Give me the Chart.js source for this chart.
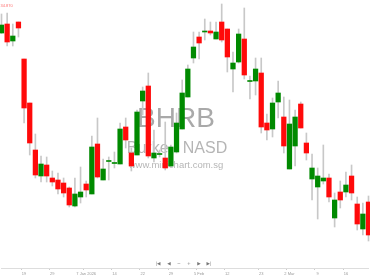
<!DOCTYPE html>
<html>
<head>
<meta charset="utf-8">
<script src="https://cdn.jsdelivr.net/npm/chart.js@4.4.1/dist/chart.umd.min.js"></script>
<style>
  html, body { margin: 0; padding: 0; background: #fff; }
  #wrap { width: 370px; height: 278px; position: relative; }
</style>
</head>
<body>
<div id="wrap"><canvas id="bhrbChart"></canvas></div>
<script>
// trading days, 15 Dec 2025 .. 20 Mar 2026
const dates = [
  "15 Dec", "16 Dec", "17 Dec", "18 Dec", "19 Dec", "22 Dec", "23 Dec", "24 Dec", "26 Dec", "29 Dec",
  "30 Dec", "31 Dec", "2 Jan", "5 Jan", "6 Jan", "7 Jan", "8 Jan", "9 Jan", "12 Jan", "13 Jan",
  "14 Jan", "15 Jan", "16 Jan", "20 Jan", "21 Jan", "22 Jan", "23 Jan", "26 Jan", "27 Jan", "28 Jan",
  "29 Jan", "30 Jan", "2 Feb", "3 Feb", "4 Feb", "5 Feb", "6 Feb", "9 Feb", "10 Feb", "11 Feb",
  "12 Feb", "13 Feb", "17 Feb", "18 Feb", "19 Feb", "20 Feb", "23 Feb", "24 Feb", "25 Feb", "26 Feb",
  "27 Feb", "2 Mar", "3 Mar", "4 Mar", "5 Mar", "6 Mar", "9 Mar", "10 Mar", "11 Mar", "12 Mar",
  "13 Mar", "16 Mar", "17 Mar", "18 Mar", "19 Mar", "20 Mar"
];

const opens = [
  26.70, 27.60, 25.90, 27.80, 24.10, 19.70, 15.00, 12.40, 13.50, 12.20,
  12.00, 11.70, 11.20, 9.40, 10.30, 11.60, 10.60, 15.60, 12.00, 13.85,
  13.65, 13.60, 17.30, 14.70, 14.50, 19.90, 21.40, 14.20, 14.55, 14.20,
  13.40, 14.80, 17.10, 20.30, 24.20, 26.30, 26.80, 26.90, 26.10, 27.80,
  27.10, 23.10, 23.80, 26.10, 21.85, 21.90, 22.70, 17.70, 17.10, 19.80,
  18.30, 13.10, 15.40, 19.60, 15.70, 12.10, 11.30, 11.90, 12.20, 8.20,
  10.80, 10.80, 12.40, 9.60, 7.10, 9.80
];
const highs = [
  28.60, 28.70, 27.60, 27.80, 24.10, 19.70, 16.60, 14.40, 14.30, 12.90,
  12.70, 12.20, 11.30, 12.20, 13.30, 11.90, 16.40, 18.20, 14.10, 14.30,
  14.80, 17.70, 18.20, 15.20, 19.00, 21.30, 22.70, 17.00, 15.00, 17.80,
  15.50, 18.70, 22.00, 23.50, 26.80, 26.80, 28.10, 27.80, 27.80, 29.60,
  27.10, 24.80, 27.10, 29.20, 22.40, 24.20, 24.20, 18.60, 20.20, 21.90,
  20.30, 20.00, 19.00, 19.80, 16.70, 14.60, 13.20, 15.50, 12.60, 10.70,
  11.90, 12.80, 13.50, 10.30, 9.70, 10.40
];
const lows = [
  26.65, 25.40, 25.40, 26.30, 17.70, 14.50, 12.20, 11.80, 11.80, 11.40,
  10.60, 10.30, 9.30, 9.30, 9.70, 10.30, 10.60, 12.20, 12.00, 12.00,
  13.20, 13.60, 15.20, 12.90, 14.50, 18.50, 14.20, 13.80, 14.30, 13.00,
  13.30, 14.70, 17.10, 20.30, 23.70, 24.10, 26.00, 26.50, 26.10, 25.80,
  22.80, 20.80, 23.70, 22.10, 20.10, 20.50, 16.70, 16.00, 16.30, 18.20,
  14.70, 13.10, 13.40, 17.20, 14.00, 10.00, 8.10, 11.60, 9.80, 7.30,
  9.20, 10.30, 10.00, 7.00, 6.50, 5.90
];
const closes = [
  27.50, 25.80, 26.40, 27.20, 19.20, 15.70, 12.50, 13.60, 12.40, 11.80,
  11.10, 10.70, 9.50, 10.60, 10.80, 11.00, 15.30, 12.30, 13.10, 13.95,
  13.75, 17.10, 16.00, 13.40, 18.80, 20.90, 14.40, 14.70, 14.65, 13.20,
  15.30, 17.70, 20.70, 23.10, 25.30, 25.70, 26.90, 26.70, 26.80, 26.00,
  24.30, 23.70, 26.60, 22.50, 21.95, 23.10, 17.30, 17.00, 19.70, 20.70,
  15.40, 17.60, 18.30, 17.20, 14.70, 13.20, 12.40, 12.20, 10.30, 10.00,
  10.00, 11.50, 10.70, 7.60, 8.60, 6.50
];

// x axis labels and the candle they sit under
const tickIndex = [4, 9, 15, 20, 25, 30, 35, 40, 46, 51, 56, 61];
const tickText = ["19", "29", "7 Jan 2026", "14", "22", "29", "5 Feb", "12", "23", "2 Mar", "9", "16"];

const UP = "#008a00";
const DOWN = "#ff0a0a";
const FONT = "'Liberation Sans', Arial, sans-serif";

const candleColors = opens.map((o, i) => (closes[i] >= o ? UP : DOWN));

// watermark behind the candles
const watermark = {
  id: "watermark",
  beforeDatasetsDraw(chart) {
    const c = chart.ctx;
    c.save();
    c.textAlign = "center";
    c.textBaseline = "alphabetic";
    c.fillStyle = "rgba(140,140,140,0.75)";
    c.font = "28px " + FONT;
    c.fillText("BHRB", 176, 127);
    c.fillStyle = "rgba(150,150,150,0.7)";
    c.font = "16px " + FONT;
    c.fillText("Burke - NASD", 177, 153);
    c.font = "9.5px " + FONT;
    c.fillText("www.minichart.com.sg", 176, 168);
    c.restore();
  },
  afterDraw(chart) {
    const c = chart.ctx;
    c.save();
    // price tag top left
    c.fillStyle = "#ff7070";
    c.font = "4px " + FONT;
    c.textBaseline = "middle";
    c.textAlign = "left";
    c.fillText("34.870", 0.5, 6);
    // navigation buttons
    const nav = ["|\u25C0", "\u25C0", "\u2212", "+", "\u25B6", "\u25B6|"];
    const navX = [158, 169, 179, 189, 199, 209];
    c.fillStyle = "#777";
    c.font = "4.5px 'DejaVu Sans', sans-serif";
    c.textAlign = "center";
    nav.forEach((t, i) => c.fillText(t, navX[i], 263.5));
    c.restore();
  }
};

const ctx = document.getElementById("bhrbChart").getContext("2d");
const bhrbChart = new Chart(ctx, {
  type: "bar",
  data: {
    labels: dates,
    datasets: [
      {
        label: "range",
        data: lows.map((l, i) => [l, highs[i]]),
        backgroundColor: "#c8c8c8",
        barThickness: 1,
        grouped: false,
        clip: false,
        order: 2,
      },
      {
        label: "body",
        data: opens.map((o, i) => [o, closes[i]]),
        backgroundColor: candleColors,
        barThickness: 4.6,
        grouped: false,
        clip: false,
        order: 1,
      },
    ],
  },
  options: {
    responsive: true,
    maintainAspectRatio: false,
    animation: false,
    devicePixelRatio: 1,
    layout: { padding: { left: 1, right: 1, top: 0, bottom: 0 } },
    plugins: { legend: { display: false }, tooltip: { enabled: false } },
    scales: {
      x: {
        offset: false,
        grid: {
          drawOnChartArea: false,
          tickLength: 2,
          color: (c) => (tickIndex.includes(c.index) ? "#cccccc" : "rgba(0,0,0,0)"),
        },
        border: { color: "#dddddd" },
        ticks: {
          autoSkip: false,
          maxRotation: 0,
          padding: 1.5,
          color: "#999999",
          font: { size: 4, family: FONT },
          callback: (v, i) => {
            const k = tickIndex.indexOf(i);
            return k >= 0 ? tickText[k] : "";
          },
        },
        afterFit: (scale) => { scale.height = 10; },
      },
      y: {
        display: false,
        min: 3.2,
        max: 30,
      },
    },
  },
  plugins: [watermark],
});
</script>
</body>
</html>
